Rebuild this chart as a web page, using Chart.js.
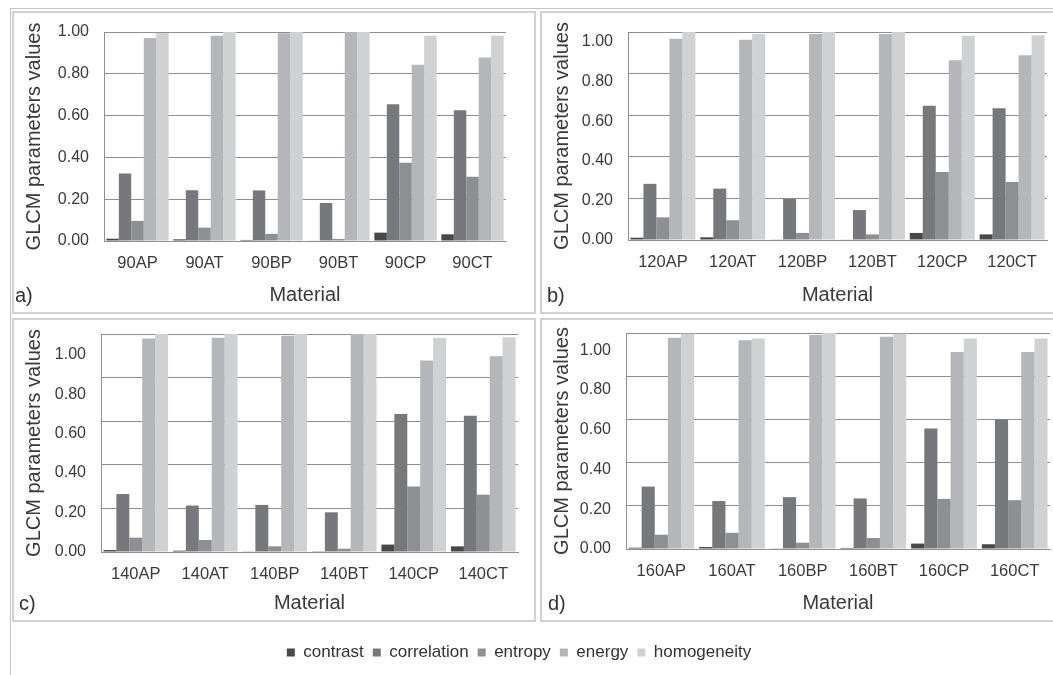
<!DOCTYPE html>
<html lang="en">
<head>
<meta charset="UTF-8">
<title>GLCM parameters values by material</title>
<script src="https://cdn.jsdelivr.net/npm/chart.js"></script>
<style>
  html,body{margin:0;padding:0;background:#fff;}
  body{width:1053px;height:675px;overflow:hidden;position:relative;font-family:'Liberation Sans',Arial,sans-serif;}
  .frame{position:absolute;left:10px;top:8px;width:1100px;height:700px;border-top:1px solid #c4c4c4;border-left:1px solid #c4c4c4;}
  .box{position:absolute;border:2px solid #d2d2d2;box-sizing:border-box;}
  canvas{position:absolute;}
  .tag{position:absolute;font-size:20px;color:#333;line-height:1;}
</style>
</head>
<body>
<div class="frame"></div>
<div class="box" style="left:12px;top:11px;width:524px;height:303px"></div>
<div class="box" style="left:540px;top:11px;width:540px;height:303px"></div>
<div class="box" style="left:12px;top:318px;width:524px;height:304px"></div>
<div class="box" style="left:540px;top:318px;width:540px;height:304px"></div>

<canvas id="chartA" width="520" height="299" style="left:14px;top:13px"></canvas>
<canvas id="chartB" width="530" height="299" style="left:542px;top:13px"></canvas>
<canvas id="chartC" width="520" height="300" style="left:14px;top:320px"></canvas>
<canvas id="chartD" width="530" height="300" style="left:542px;top:320px"></canvas>
<canvas id="legend" width="1053" height="80" style="left:0;top:635px"></canvas>

<span class="tag" style="left:15px;top:285px">a)</span>
<span class="tag" style="left:547px;top:285px">b)</span>
<span class="tag" style="left:19px;top:593px">c)</span>
<span class="tag" style="left:548px;top:593px">d)</span>

<script>
// series + tick values
const series = ['contrast', 'correlation', 'entropy', 'energy', 'homogeneity'];
const yTicks = [0, 0.2, 0.4, 0.6, 0.8, 1.0];

// a) 90
const cats90 = ['90AP', '90AT', '90BP', '90BT', '90CP', '90CT'];
const contrast90    = [0.011, 0.008, 0.005, 0.002, 0.040, 0.032];
const correlation90 = [0.323, 0.243, 0.242, 0.182, 0.654, 0.626];
const entropy90     = [0.096, 0.064, 0.034, 0.010, 0.374, 0.307];
const energy90      = [0.971, 0.982, 0.994, 1.000, 0.843, 0.878];
const homogeneity90 = [0.995, 1.000, 1.000, 1.000, 0.982, 0.982];

// b) 120
const cats120 = ['120AP', '120AT', '120BP', '120BT', '120CP', '120CT'];
const contrast120    = [0.011, 0.013, 0.003, 0.002, 0.034, 0.027];
const correlation120 = [0.270, 0.247, 0.197, 0.144, 0.645, 0.634];
const entropy120     = [0.109, 0.095, 0.034, 0.027, 0.327, 0.279];
const energy120      = [0.968, 0.963, 0.990, 0.990, 0.864, 0.888];
const homogeneity120 = [1.000, 0.990, 1.000, 1.000, 0.982, 0.984];

// c) 140
const cats140 = ['140AP', '140AT', '140BP', '140BT', '140CP', '140CT'];
const contrast140    = [0.009, 0.006, 0.003, 0.001, 0.034, 0.026];
const correlation140 = [0.266, 0.213, 0.216, 0.182, 0.633, 0.625];
const entropy140     = [0.066, 0.055, 0.026, 0.015, 0.301, 0.263];
const energy140      = [0.979, 0.983, 0.992, 1.000, 0.879, 0.898];
const homogeneity140 = [1.000, 1.000, 1.000, 1.000, 0.982, 0.985];

// d) 160
const cats160 = ['160AP', '160AT', '160BP', '160BT', '160CP', '160CT'];
const contrast160    = [0.006, 0.009, 0.003, 0.005, 0.025, 0.022];
const correlation160 = [0.289, 0.222, 0.240, 0.234, 0.558, 0.600];
const entropy160     = [0.066, 0.075, 0.029, 0.051, 0.232, 0.226];
const energy160      = [0.978, 0.966, 0.991, 0.983, 0.912, 0.912];
const homogeneity160 = [0.997, 0.974, 1.000, 0.997, 0.974, 0.974];

// styles
const seriesColors = ['#48484b', '#77787b', '#8e8f92', '#b5b6b9', '#d0d1d3'];
const gridColor = '#8f8f8f';
const textColor = '#3a3a3a';
Chart.defaults.font.family = "'Liberation Sans', Arial, sans-serif";

// labelMax: the tick labels in the source sit a bit off the gridlines, so they get their own axis
const panels = [
  {id:'chartA', cats:cats90,  vals:[contrast90, correlation90, entropy90, energy90, homogeneity90],      labelMax:1.0,   left:90, top:19, right:28, bottom:71},
  {id:'chartB', cats:cats120, vals:[contrast120, correlation120, entropy120, energy120, homogeneity120], labelMax:1.05,  left:86, top:19, right:25, bottom:72},
  {id:'chartC', cats:cats140, vals:[contrast140, correlation140, entropy140, energy140, homogeneity140], labelMax:1.105, left:87, top:14, right:16, bottom:68},
  {id:'chartD', cats:cats160, vals:[contrast160, correlation160, entropy160, energy160, homogeneity160], labelMax:1.087, left:84, top:13, right:22, bottom:71}
];

function setTicks(s){ s.ticks = yTicks.map(v => ({value: v})); }
// keep the plot box exactly where the layout padding puts it
function noPad(s){ s.paddingTop = 0; s.paddingBottom = 0; s.paddingLeft = 0; s.paddingRight = 0; }

function makePanel(p){
  return new Chart(document.getElementById(p.id), {
    type: 'bar',
    data: {
      labels: p.cats,
      datasets: series.map((s, i) => ({
        label: s, data: p.vals[i], backgroundColor: seriesColors[i], borderWidth: 0,
        categoryPercentage: 0.93, barPercentage: 1.0, yAxisID: 'y'
      }))
    },
    options: {
      responsive: false, animation: false,
      layout: {padding: {left: 0, top: p.top, right: p.right, bottom: 0}},
      plugins: {legend: {display: false}, tooltip: {enabled: false}},
      scales: {
        x: {
          grid: {display: false}, border: {color: gridColor},
          ticks: {font: {size: 16.5}, color: textColor, padding: 5, maxRotation: 0, autoSkip: false},
          title: {display: true, text: 'Material', font: {size: 20}, color: textColor, padding: {top: 0, bottom: 5}},
          afterFit: s => { s.height = p.bottom; noPad(s); }
        },
        yl: {
          position: 'left', weight: 1, min: 0, max: p.labelMax,
          grid: {display: false, drawTicks: false}, border: {display: false},
          ticks: {font: {size: 16}, color: textColor, padding: 15, callback: v => v.toFixed(2)},
          afterBuildTicks: setTicks,
          title: {display: true, text: 'GLCM parameters values', font: {size: 20}, color: textColor, padding: {top: 8, bottom: 0}},
          afterFit: s => { s.width = p.left; noPad(s); }
        },
        y: {
          position: 'left', weight: 0, min: 0, max: 1,
          grid: {color: gridColor, drawTicks: false}, border: {color: gridColor},
          ticks: {display: false},
          afterBuildTicks: setTicks,
          afterFit: s => { s.width = 0; noPad(s); }
        }
      }
    }
  });
}
panels.forEach(makePanel);

// shared legend under the four panels
new Chart(document.getElementById('legend'), {
  type: 'bar',
  data: {labels: [], datasets: series.map((s, i) => ({label: s, data: [], backgroundColor: seriesColors[i], borderWidth: 0}))},
  options: {
    responsive: false, animation: false,
    layout: {padding: {right: 15}},
    scales: {x: {display: false}, y: {display: false}},
    plugins: {
      tooltip: {enabled: false},
      legend: {position: 'top', labels: {boxWidth: 8, boxHeight: 8, padding: 9, font: {size: 17}, color: '#333'}}
    }
  }
});
</script>
</body>
</html>
